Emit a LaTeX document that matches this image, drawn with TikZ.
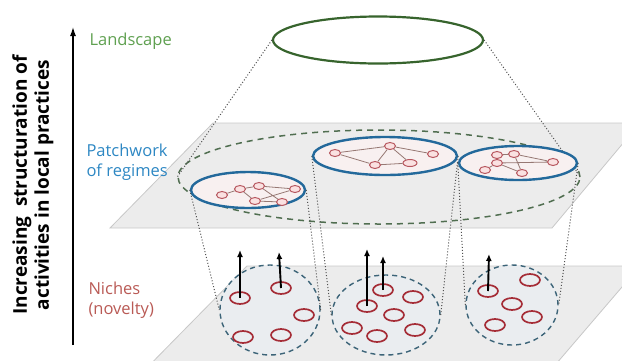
\documentclass[tikz,border=0pt]{standalone}
\usepackage{fontspec}
\setmainfont{Open Sans}
\usetikzlibrary{shapes.geometric,arrows.meta}
\definecolor{landgreen}{RGB}{95,160,80}
\definecolor{landline}{RGB}{55,100,45}
\definecolor{regblue}{RGB}{35,105,155}
\definecolor{txtblue}{RGB}{45,135,195}
\definecolor{nichered}{RGB}{165,45,55}
\definecolor{txtred}{RGB}{185,90,85}
\definecolor{planefill}{RGB}{236,236,236}
\definecolor{planeline}{RGB}{200,200,200}
\definecolor{dashblue}{RGB}{60,100,120}
\definecolor{dashgreen}{RGB}{80,110,80}
\definecolor{linkcol}{RGB}{150,120,115}
\definecolor{nodefill}{RGB}{250,225,225}
\definecolor{regfill}{RGB}{248,240,240}
\definecolor{nichefill}{RGB}{234,237,240}
\definecolor{dotcol}{RGB}{80,80,80}
\begin{document}
\begin{tikzpicture}[x=1pt,y=-1pt,
  plane/.style={fill=planefill,draw=planeline,line width=0.8pt},
  regime/.style={ellipse,draw=regblue,line width=2.4pt,fill=regfill,inner sep=0},
  niche/.style={ellipse,draw=dashblue,dash pattern=on 5pt off 4pt,line width=1.4pt,fill=nichefill,inner sep=0},
  nov/.style={ellipse,draw=nichered,line width=1.7pt,minimum width=20pt,minimum height=12pt,inner sep=0},
  rn/.style={ellipse,draw=nichered!80,line width=1pt,fill=nodefill,minimum width=11pt,minimum height=7pt,inner sep=0},
  link/.style={draw=linkcol,line width=0.8pt},
  proj/.style={draw=dotcol,dotted,line width=1pt},
  up/.style={-{Latex[length=7pt,width=6pt]},line width=1.9pt,black},
  lbl/.style={anchor=west,align=left,font=\fontsize{16.5}{20}\selectfont}
]
\useasboundingbox (0,0) rectangle (622,360);
\clip (0,0) rectangle (622,360);

% planes
\path[plane] (247,266) -- (640,266) -- (538,385) -- (130,385) -- cycle;
\path[plane] (213,123) -- (640,123) -- (552,228) -- (110,228) -- cycle;

% axis
\coordinate (axbot) at (73,345);
\coordinate (axtop) at (73,27);
\draw[-{Latex[length=9pt,width=6pt]},line width=1.2pt] (axbot) -- (axtop);
\node[rotate=90,align=center,font=\bfseries\fontsize{19}{22}\selectfont] (axlbl) at (33,185)
  {Increasing\ \ structuration of\\activities in local practices};

% labels
\node[lbl,text=landgreen] (tland) at (86,41) {Landscape};
\node[lbl,text=txtblue] (tpatch) at (83,162) {Patchwork\\of regimes};
\node[lbl,text=txtred] (tniche) at (85,300) {Niches\\(novelty)};

% landscape
\node[ellipse,draw=landline,line width=2.2pt,minimum width=210pt,minimum height=47pt,inner sep=0] (land) at (378,40) {};
% patchwork
\node[ellipse,draw=dashgreen,dash pattern=on 6pt off 5pt,line width=1.5pt,minimum width=402pt,minimum height=94pt,inner sep=0] (patch) at (379,177) {};
\draw[proj] (land.west) -- (patch.west);
\draw[proj] (land.east) -- (patch.east);

% niches
\node[niche,minimum width=100pt,minimum height=90pt] (nA) at (270,310) {};
\node[niche,minimum width=108pt,minimum height=80pt] (nB) at (386,315) {};
\node[niche,minimum width=92pt,minimum height=80pt] (nC) at (512,305) {};

% regimes
\node[regime,minimum width=114pt,minimum height=36pt] (rA) at (248,190) {};
\node[regime,minimum width=144pt,minimum height=38pt] (rB) at (385,156) {};
\node[regime,minimum width=118pt,minimum height=34pt] (rC) at (518,163) {};

% projections regime -> niche
\draw[proj] (rA.west) -- (nA.west);
\draw[proj] (rA.east) -- (nA.east);
\draw[proj] (rB.west) -- (nB.west);
\draw[proj] (rB.east) -- (nB.east);
\draw[proj] (rC.west) -- (nC.west);
\draw[proj] (rC.east) -- (nC.east);

% regime A network
\node[rn] (a1) at (222,195) {};
\node[rn] (a2) at (240,189) {};
\node[rn] (a3) at (259,186) {};
\node[rn] (a4) at (295,189) {};
\node[rn] (a5) at (255,201) {};
\node[rn] (a6) at (282,202) {};
\draw[link] (a1) -- (a2) (a2) -- (a3) (a3) -- (a4) (a3) -- (a6) (a2) -- (a5) (a5) -- (a6) (a4) -- (a5);

% regime B network
\node[rn] (b1) at (335,153) {};
\node[rn] (b2) at (390,146) {};
\node[rn] (b3) at (433,154) {};
\node[rn] (b4) at (375,165) {};
\node[rn,minimum width=14pt] (b5) at (410,163) {};
\draw[link] (b1) -- (b4) (b1) -- (b2) (b2) -- (b3) (b2) -- (b4) (b4) -- (b5) (b2) -- (b5);

% regime C network
\node[rn] (c1) at (497,155) {};
\node[rn] (c2) at (514,154) {};
\node[rn] (c3) at (485,170) {};
\node[rn] (c4) at (497,163) {};
\node[rn] (c5) at (522,173) {};
\node[rn] (c6) at (553,162) {};
\draw[link] (c1) -- (c2) (c1) -- (c4) (c3) -- (c4) (c4) -- (c5) (c2) -- (c6) (c4) -- (c6) (c2) -- (c5);

% niche A novelties
\node[nov] (na1) at (240,298) {};
\node[nov] (na2) at (281,288) {};
\node[nov] (na3) at (304,315) {};
\node[nov] (na4) at (243,337) {};
\node[nov] (na5) at (281,335) {};
% niche B
\node[nov] (nb1) at (367,306) {};
\node[nov] (nb2) at (383,290) {};
\node[nov] (nb3) at (413,297) {};
\node[nov] (nb4) at (394,315) {};
\node[nov] (nb5) at (352,328) {};
\node[nov] (nb6) at (377,336) {};
\node[nov] (nb7) at (415,330) {};
% niche C
\node[nov] (nc1) at (488,291) {};
\node[nov] (nc2) at (530,280) {};
\node[nov] (nc3) at (512,304) {};
\node[nov] (nc4) at (532,317) {};
\node[nov] (nc5) at (495,325) {};

% upward arrows
\coordinate (ua1) at (240,250);
\coordinate (ua2) at (279,252);
\coordinate (ub1) at (367,249);
\coordinate (ub2) at (383,256);
\coordinate (uc1) at (489,254);
\draw[up] (na1.center) -- (ua1);
\draw[up] (na2.center) -- (ua2);
\draw[up] (nb1.center) -- (ub1);
\draw[up] (nb2.center) -- (ub2);
\draw[up] (nc1.center) -- (uc1);
\end{tikzpicture}
\end{document}
